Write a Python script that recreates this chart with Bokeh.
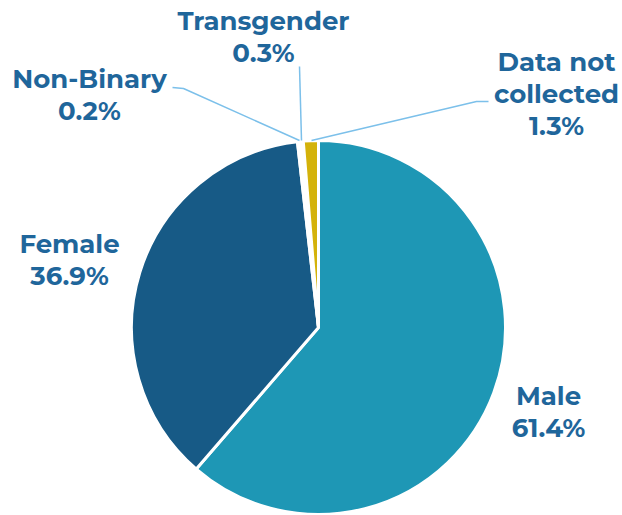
import numpy as np
from bokeh.plotting import figure
from bokeh.models import Range1d, ColumnDataSource
from bokeh.core.properties import value
from bokeh.embed import file_html
from bokeh.resources import INLINE

categories = ["Male", "Female", "Non-Binary", "Transgender", "Data not collected"]
percents = [61.4, 36.9, 0.2, 0.3, 1.3]
colors = ["#1e97b5", "#175a86", "#ffffff", "#ffffff", "#d4b20a"]
label_lines = [["Male", "61.4%"], ["Female", "36.9%"], ["Non-Binary", "0.2%"],
               ["Transgender", "0.3%"], ["Data not", "collected", "1.3%"]]

W, H = 622, 515
CX, CY, R = 318, 515 - 327, 187

p = figure(width=W, height=H, output_backend="svg", toolbar_location=None,
           x_range=Range1d(0, W), y_range=Range1d(0, H), min_border=0)
p.axis.visible = False
p.grid.visible = False
p.outline_line_color = None
p.background_fill_color = "white"

vals = np.array(percents)
frac = vals / vals.sum()
ends = np.cumsum(frac) * 2 * np.pi
starts = np.concatenate([[0], ends[:-1]])
start_ang = np.pi / 2 - starts
end_ang = np.pi / 2 - ends
src = ColumnDataSource(dict(s=start_ang, e=end_ang, c=colors))
p.wedge(x=CX, y=CY, radius=R, start_angle="s", end_angle="e", direction="clock",
        fill_color="c", line_color="white", line_width=3, source=src)

# leader lines (pixel layout, y from top)
leaders = {
    "Non-Binary": [(172, 87), (183, 88), (299, 140)],
    "Transgender": [(299, 66), (301, 140)],
    "Data not collected": [(311, 140), (476, 101), (488, 101)],
}
for k, pts in leaders.items():
    p.line([a for a, b in pts], [H - b for a, b in pts], line_color="#7cc0ea", line_width=1.5)

# label anchors: (x center, y of first line center)
anchors = {
    "Male": (548, 395),
    "Female": (69, 243),
    "Non-Binary": (89, 78),
    "Transgender": (263, 20),
    "Data not collected": (556, 61),
}
LH = 32
for cat, lines in zip(categories, label_lines):
    x, y = anchors[cat]
    for i, t in enumerate(lines):
        p.text(x=[x], y=[H - (y + i * LH)], text=[t], text_font=value("Montserrat, DejaVu Sans"),
               text_font_style="bold", text_font_size="26px", text_color="#1f669b",
               text_align="center", text_baseline="middle")

open("out.html", "w").write(file_html(p, INLINE))
